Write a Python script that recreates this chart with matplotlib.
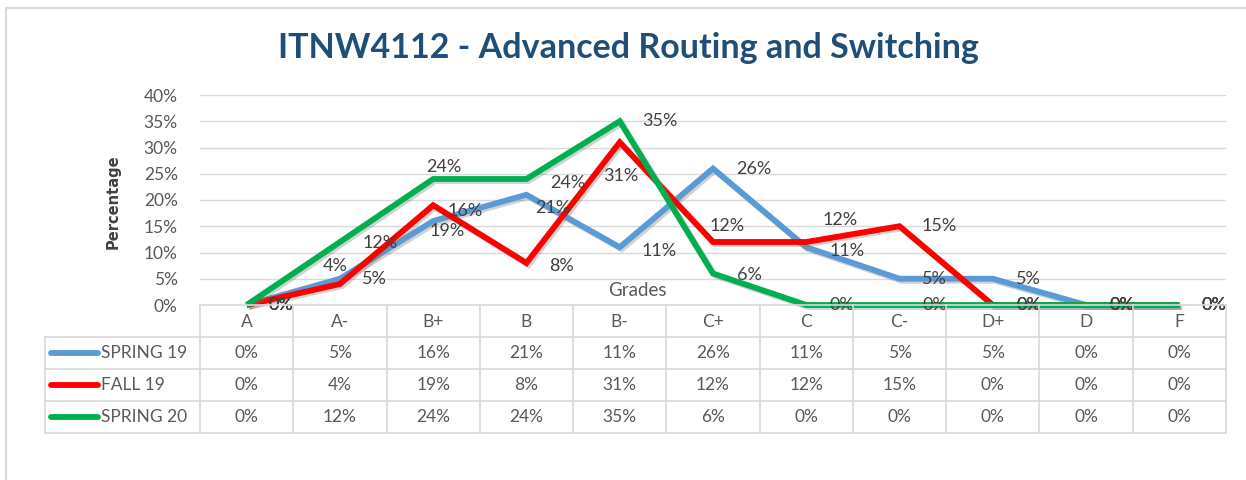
import matplotlib
matplotlib.use("Agg")
import matplotlib.pyplot as plt
from matplotlib.lines import Line2D
from matplotlib.patches import Rectangle
from matplotlib.transforms import blended_transform_factory
import matplotlib.patheffects as pe

# ---------------- data ----------------
grades = ["A", "A-", "B+", "B", "B-", "C+", "C", "C-", "D+", "D", "F"]
series_names = ["SPRING 19", "FALL 19", "SPRING 20"]
spring19 = [0, 5, 16, 21, 11, 26, 11, 5, 5, 0, 0]
fall19 = [0, 4, 19, 8, 31, 12, 12, 15, 0, 0, 0]
spring20 = [0, 12, 24, 24, 35, 6, 0, 0, 0, 0, 0]
yticks = [0, 5, 10, 15, 20, 25, 30, 35, 40]
title = "ITNW4112 - Advanced Routing and Switching"

# ---------------- style ----------------
colors = ["#5B9BD5", "#FF0000", "#00B050"]
# label offsets in pixels (dx right, dy down) for each series / point
off_s19 = [(34, 0), (35, 0), (32, -10), (26, 13), (39, 4), (41, 0), (41, 4), (35, 0), (36, 0), (36, 0), (35, 0)]
off_f19 = [(34, 0), (-5, -18), (14, 26), (35, 3), (1, 34), (14, -16), (34, -22), (40, 0), (36, 0), (36, 0), (35, 0)]
off_s20 = [(34, 0), (40, 1), (11, -12), (41, 4), (40, 0), (36, 2), (36, 0), (35, 0), (36, 0), (36, 0), (35, 0)]

W, H = 1246, 480
FONT = ["Lato", "DejaVu Sans"]
TXT = "#595959"
LBL = "#404040"
GRID = "#D9D9D9"
FS = 12.5
plt.rcParams["font.family"] = FONT

fig = plt.figure(figsize=(W / 100, H / 100), dpi=100)
fig.patch.set_facecolor("white")

def fx(x):
    return x / W

def fy(y):
    return 1 - y / H

# chart border
fig.add_artist(Rectangle((fx(6), fy(1000)), fx(2000), fy(8) - fy(1000),
                         transform=fig.transFigure, fill=False,
                         edgecolor="#D9D9D9", linewidth=1.5))

ax = fig.add_axes([fx(200), fy(305), fx(1226) - fx(200), fy(95) - fy(305)])
ax.set_xlim(-0.5, len(grades) - 0.5)
ax.set_ylim(0, 40)
for s in ax.spines.values():
    s.set_visible(False)
ax.set_yticks(yticks)
ax.set_yticklabels([f"{t}%" for t in yticks], color=TXT, fontsize=FS)
ax.tick_params(axis="y", length=0, pad=16)
ax.set_xticks([])
ax.grid(axis="y", color=GRID, linewidth=1)
ax.set_axisbelow(True)

xs = list(range(len(grades)))
all_series = [spring19, fall19, spring20]
all_offs = [off_s19, off_f19, off_s20]
for k, (vals, col) in enumerate(zip(all_series, colors)):
    ax.plot(xs, vals, color=col, linewidth=4.2, solid_joinstyle="miter",
            solid_capstyle="butt", zorder=3 + k, clip_on=False,
            path_effects=[pe.SimpleLineShadow(offset=(1.5, -1.5), shadow_color="#7f7f7f", alpha=0.35),
                          pe.Normal()])
for k, vals in enumerate(all_series):
    for i, v in enumerate(vals):
        dx, dy = all_offs[k][i]
        ax.annotate(f"{v}%", (i, v), xytext=(dx, -dy), textcoords="offset pixels",
                    ha="center", va="center", color=LBL, fontsize=FS + 0.5, zorder=10,
                    annotation_clip=False)

ax.text((637 - 200) / 1026, 1 - (290 - 95) / 210, "Grades", transform=ax.transAxes, ha="center",
        va="center", color=TXT, fontsize=FS + 1, zorder=9)

fig.text(fx(113), fy(202), "Percentage", rotation=90, ha="center", va="center",
         color=LBL, fontsize=10.5, fontweight="bold",
         family=["Liberation Sans Narrow", "DejaVu Sans"])

fig.text(fx(628), fy(48), title, ha="center", va="center", color="#1F4E79",
         fontsize=24.5, fontweight="bold")

# ---------------- data table ----------------
bt = blended_transform_factory(ax.transData, fig.transFigure)
rows_y = [305, 337, 369, 401, 433]
n = len(grades)
for y in rows_y:
    fig.add_artist(Line2D([-0.5, n - 0.5], [fy(y), fy(y)], transform=bt, color=GRID, lw=1.2))
for y in rows_y[1:]:
    fig.add_artist(Line2D([fx(45), fx(200)], [fy(y), fy(y)], transform=fig.transFigure, color=GRID, lw=1.2))
for i in range(n + 1):
    fig.add_artist(Line2D([i - 0.5, i - 0.5], [fy(305), fy(433)], transform=bt, color=GRID, lw=1.2))
fig.add_artist(Line2D([fx(45), fx(45)], [fy(337), fy(433)], transform=fig.transFigure, color=GRID, lw=1.2))

for i, g in enumerate(grades):
    fig.text(i, fy(322), g, transform=bt, ha="center", va="center", color=TXT, fontsize=FS)
for r, (name, vals, col) in enumerate(zip(series_names, all_series, colors)):
    yc = (rows_y[r + 1] + rows_y[r + 2]) / 2
    fig.add_artist(Line2D([fx(51), fx(98)], [fy(yc), fy(yc)], transform=fig.transFigure,
                          color=col, lw=4.2, solid_capstyle="round"))
    fig.text(fx(101), fy(yc), name, ha="left", va="center", color=TXT, fontsize=FS)
    for i, v in enumerate(vals):
        fig.text(i, fy(yc), f"{v}%", transform=bt, ha="center", va="center", color=TXT, fontsize=FS)

fig.savefig("out.png", dpi=100, facecolor="white")
